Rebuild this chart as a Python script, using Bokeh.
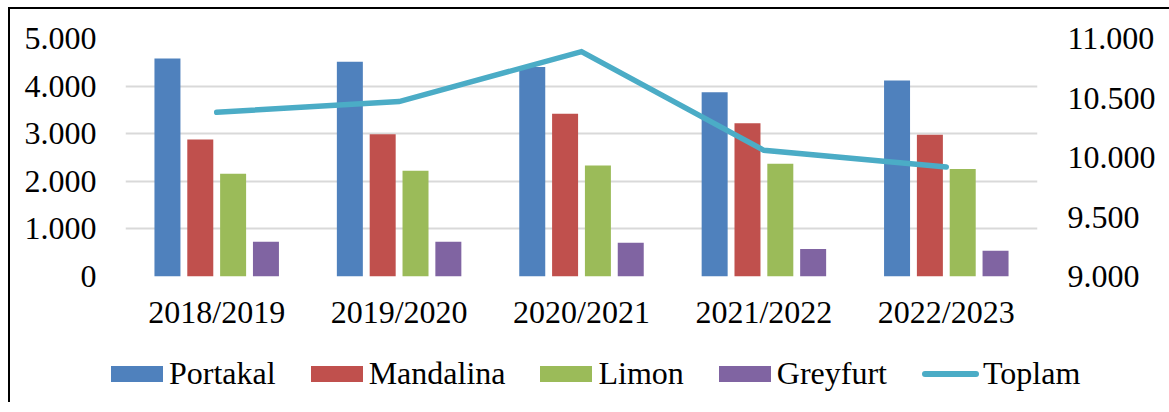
from bokeh.plotting import figure
from bokeh.layouts import column
from bokeh.models import ColumnDataSource, FactorRange, Range1d, LinearAxis, FixedTicker, Div
from bokeh.transform import dodge
from bokeh.embed import file_html
from bokeh.resources import INLINE

years = ["2018/2019", "2019/2020", "2020/2021", "2021/2022", "2022/2023"]
portakal = [4580, 4510, 4400, 3870, 4120]
mandalina = [2880, 2990, 3420, 3220, 2980]
limon = [2160, 2220, 2330, 2370, 2260]
greyfurt = [730, 730, 710, 580, 540]
toplam = [10380, 10470, 10890, 10060, 9920]

left_ticks = [0, 1000, 2000, 3000, 4000, 5000]
left_labels = ["0", "1.000", "2.000", "3.000", "4.000", "5.000"]
right_ticks = [9000, 9500, 10000, 10500, 11000]
right_labels = ["9.000", "9.500", "10.000", "10.500", "11.000"]
series = ["Portakal", "Mandalina", "Limon", "Greyfurt", "Toplam"]
colors = ["#4F81BD", "#C0504D", "#9BBB59", "#8064A2", "#4BACC6"]

FONT = "Liberation Serif"
FS = "32px"

src = ColumnDataSource(dict(x=years, portakal=portakal, mandalina=mandalina,
                            limon=limon, greyfurt=greyfurt, toplam=toplam))

p = figure(frame_width=912, frame_height=238, x_range=FactorRange(factors=years),
           y_range=Range1d(0, 5000), output_backend="svg", toolbar_location=None,
           min_border_left=115, min_border_right=132, min_border_top=29,
           min_border_bottom=70)
p.outline_line_color = None
p.extra_y_ranges = {"right": Range1d(9000, 11000)}

W = 0.1425
for col_name, off, c in zip(["portakal", "mandalina", "limon", "greyfurt"],
                            [-0.27, -0.09, 0.09, 0.27], colors[:4]):
    p.vbar(x=dodge("x", off, range=p.x_range), top=col_name, width=W, source=src,
           fill_color=c, line_color=None)
p.line(x="x", y="toplam", source=src, y_range_name="right", line_color=colors[4],
       line_width=5.5, line_cap="round", line_join="miter")

# left axis
ya = p.yaxis[0]
ya.ticker = FixedTicker(ticks=left_ticks)
ya.major_label_overrides = {t: l for t, l in zip(left_ticks, left_labels)}
ya.axis_line_color = None
ya.major_tick_line_color = None
ya.minor_tick_line_color = None
ya.major_label_standoff = 23
ya.major_label_text_font = FONT
ya.major_label_text_font_size = FS
ya.major_label_text_color = "#000000"

# right axis
ra = LinearAxis(y_range_name="right", ticker=FixedTicker(ticks=right_ticks))
ra.major_label_overrides = {t: l for t, l in zip(right_ticks, right_labels)}
ra.axis_line_color = None
ra.major_tick_line_color = None
ra.minor_tick_line_color = None
ra.major_label_standoff = 24
ra.major_label_text_font = FONT
ra.major_label_text_font_size = FS
ra.major_label_text_color = "#000000"
p.add_layout(ra, "right")

# x axis
xa = p.xaxis[0]
xa.axis_line_color = None
xa.major_tick_line_color = None
xa.minor_tick_line_color = None
xa.major_label_standoff = 11
xa.major_label_text_font = FONT
xa.major_label_text_font_size = FS
xa.major_label_text_color = "#000000"

p.xgrid.grid_line_color = None
p.ygrid.ticker = FixedTicker(ticks=left_ticks)
p.ygrid.grid_line_color = "#D9D9D9"
p.ygrid.grid_line_width = 2

# legend strip (HTML, built from the series names and colours)
parts = []
for name, c in zip(series[:4], colors[:4]):
    parts.append(f'<span style="display:inline-block;width:52px;height:16px;'
                 f'background:{c};margin-right:6px"></span>'
                 f'<span style="margin-right:35px">{name}</span>')
parts.append(f'<span style="display:inline-block;width:57px;height:6px;border-radius:3px;'
             f'background:{colors[4]};margin-right:4px"></span><span>{series[4]}</span>')
html = ('<div style="display:flex;align-items:center;height:56px;padding-left:101px;'
        f"font-family:'{FONT}';font-size:{FS};color:#000;white-space:nowrap\">"
        + "".join(parts) + "</div>")
leg = Div(text=html, width=1159, height=56, margin=0)

layout = column(p, leg, spacing=0)
layout.styles = {"margin-left": "8px", "margin-top": "7px",
                 "border-left": "2px solid #000", "border-top": "2px solid #000"}

open("out.html", "w").write(file_html(layout, INLINE))
